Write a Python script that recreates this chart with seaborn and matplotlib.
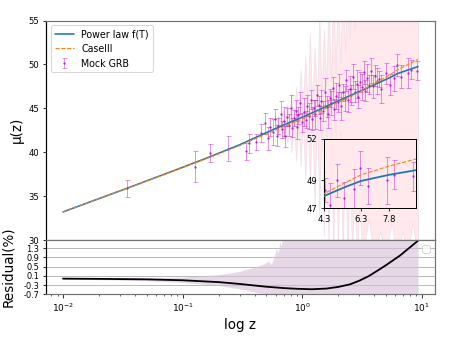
import numpy as np
import pandas as pd
import seaborn as sns
import matplotlib.pyplot as plt

# model curves
z_curve = [0.01, 0.015, 0.02, 0.03, 0.05, 0.07, 0.1, 0.15, 0.2, 0.3, 0.5, 0.7,
           1.0, 1.5, 2.0, 3.0, 4.3, 5.5, 6.3, 7.8, 9.3]
mu_power = [33.2, 34.09, 34.72, 35.6, 36.73, 37.48, 38.28, 39.2, 39.88, 40.85, 42.22, 43.1,
            43.98, 45.05, 45.85, 46.9, 47.87, 48.55, 48.96, 49.4, 49.75]
mu_case3 = [33.19, 34.08, 34.71, 35.59, 36.71, 37.45, 38.25, 39.15, 39.81, 40.75, 42.06, 42.91,
            43.77, 44.84, 45.68, 46.84, 48.04, 48.87, 49.4, 50.03, 50.56]

# mock GRB sample
z_grb = [0.034, 0.127, 0.17, 0.24, 0.34, 0.36, 0.41, 0.45, 0.49, 0.52, 0.54, 0.57, 0.59,
         0.61, 0.63, 0.66, 0.68, 0.70, 0.72, 0.75, 0.77, 0.80, 0.82, 0.85, 0.88, 0.90,
         0.93, 0.96, 0.99, 1.03, 1.07, 1.10, 1.14, 1.18, 1.21, 1.25, 1.29, 1.33, 1.37,
         1.41, 1.45, 1.50, 1.55, 1.60, 1.65, 1.70, 1.75, 1.80, 1.86, 1.92, 1.98, 2.05,
         2.12, 2.19, 2.26, 2.34, 2.42, 2.50, 2.58, 2.67, 2.76, 2.85, 2.95, 3.05, 3.15,
         3.26, 3.38, 3.50, 3.62, 3.75, 3.90, 4.05, 4.20, 4.35, 4.60, 5.00, 5.40, 5.90,
         6.25, 6.70, 7.70, 8.10, 9.10]
mu_grb = [35.9, 38.35, 39.9, 40.4, 40.1, 41.0, 41.2, 42.2, 43.3, 41.6, 42.9, 42.3, 43.8,
          41.9, 43.0, 44.4, 42.6, 43.5, 41.8, 44.0, 43.1, 45.0, 42.8, 43.9, 44.7, 42.9,
          44.2, 45.6, 43.4, 44.6, 43.7, 45.3, 44.1, 46.0, 43.8, 45.0, 44.3, 46.5, 45.4,
          43.9, 45.8, 44.7, 46.9, 45.2, 44.4, 46.2, 45.6, 47.3, 44.9, 46.4, 45.7, 47.6,
          45.3, 46.8, 46.1, 48.2, 45.9, 47.2, 46.5, 48.6, 46.9, 47.8, 46.3, 48.0, 47.4,
          49.1, 47.0, 48.4, 47.7, 49.3, 47.5, 48.7, 48.1, 48.3, 47.2, 49.0, 47.7, 48.4,
          49.9, 48.6, 49.0, 49.4, 49.3]
err_grb = [0.95, 1.8, 1.05, 1.4, 1.0, 1.1, 0.9, 1.05, 1.2, 1.3, 1.0, 1.5, 1.1,
           1.2, 0.9, 1.4, 1.0, 1.6, 1.2, 1.0, 1.3, 1.5, 1.1, 0.9, 1.2, 1.4,
           1.0, 1.3, 1.1, 1.6, 1.0, 1.2, 1.5, 1.1, 1.3, 0.9, 1.7, 1.2, 1.0,
           1.4, 1.3, 1.1, 1.5, 1.2, 1.6, 1.0, 1.4, 1.3, 1.2, 1.5, 1.1, 1.3,
           1.6, 1.0, 1.4, 1.2, 1.3, 1.5, 1.1, 1.4, 1.2, 1.6, 1.3, 1.1, 1.5,
           1.3, 1.2, 1.6, 1.1, 1.4, 1.3, 1.2, 1.5, 0.9, 1.6, 1.2, 1.2, 1.4,
           1.25, 1.3, 1.7, 1.05, 1.05]

# noisy pink band in the upper panel
z_band = [0.60, 0.63, 0.66, 0.69, 0.72, 0.75, 0.78, 0.81, 0.85, 0.89, 0.93, 0.97, 1.01,
          1.06, 1.11, 1.16, 1.21, 1.27, 1.33, 1.39, 1.45, 1.52, 1.59, 1.66, 1.74, 1.82,
          1.90, 1.99, 2.08, 2.18, 2.28, 2.39, 2.50, 2.61, 2.73, 2.86, 3.00, 3.2, 3.6,
          4.0, 4.5, 5.0, 5.6, 6.2, 6.9, 7.6, 8.4, 9.3]
band_hi = [43.0, 44.2, 43.2, 45.0, 43.4, 45.5, 43.7, 46.8, 44.0, 47.5, 44.3, 49.5, 44.6,
           51.0, 45.0, 53.5, 45.5, 52.0, 46.0, 56.0, 46.5, 54.0, 47.5, 58.0, 48.0, 60.0,
           49.0, 60.0, 50.0, 60.0, 51.5, 60.0, 53.0, 60.0, 54.0, 60.0, 60.0, 60.0, 60.0,
           60.0, 60.0, 60.0, 60.0, 60.0, 60.0, 60.0, 60.0, 60.0]
band_lo = [42.4, 42.0, 42.7, 41.5, 43.0, 41.0, 43.2, 40.0, 43.4, 39.0, 43.6, 38.5, 43.7,
           37.0, 44.0, 36.5, 44.0, 34.0, 44.3, 32.5, 44.5, 30.5, 44.8, 29.0, 44.0, 28.0,
           43.0, 28.0, 42.5, 28.0, 41.0, 28.0, 38.0, 28.0, 36.0, 28.0, 34.0, 28.0, 32.5,
           28.0, 31.0, 28.0, 32.0, 28.0, 31.0, 28.0, 32.0, 28.0]

# residual (%) between the two models
z_res = [0.01, 0.02, 0.05, 0.1, 0.2, 0.3, 0.5, 0.7, 0.9, 1.2, 1.6, 2.0, 2.5, 3.0, 3.6,
         4.3, 5.0, 5.8, 6.6, 7.5, 8.4, 9.3]
res_pct = [-0.02, -0.03, -0.05, -0.09, -0.17, -0.25, -0.37, -0.43, -0.46, -0.48, -0.45,
           -0.38, -0.27, -0.11, 0.09, 0.34, 0.56, 0.79, 0.99, 1.23, 1.44, 1.63]
z_rband = [0.01, 0.02, 0.05, 0.1, 0.2, 0.3, 0.4, 0.48, 0.52, 0.55, 0.58, 0.61, 0.63,
           0.65, 0.67, 0.70, 1.0, 3.0, 9.3]
rband_hi = [-0.01, 0.0, 0.01, 0.05, 0.15, 0.3, 0.48, 0.62, 0.75, 0.6, 0.9, 1.3, 1.1,
            1.6, 1.4, 2.5, 2.5, 2.5, 2.5]
rband_lo = [-0.03, -0.06, -0.11, -0.18, -0.32, -0.46, -0.6, -0.7, -0.8, -0.8, -0.8, -0.8,
            -0.8, -0.8, -0.8, -0.8, -0.8, -0.8, -0.8]

main_yticks = [30, 35, 40, 45, 50, 55]
res_yticks = [-0.7, -0.3, 0.1, 0.5, 0.9, 1.3]
inset_xticks = [4.3, 6.3, 7.8]
inset_yticks = [47, 49, 52]

sns.set_style('ticks')
plt.rcParams['font.family'] = ['DejaVu Sans']
plt.rcParams['text.color'] = 'black'
plt.rcParams['axes.labelcolor'] = 'black'
plt.rcParams['xtick.color'] = 'black'
plt.rcParams['ytick.color'] = 'black'

curves = pd.DataFrame({'z': z_curve, 'power': mu_power, 'case3': mu_case3})
res_df = pd.DataFrame({'z': z_res, 'res': res_pct})

W, H = 463, 347
fig = plt.figure(figsize=(W / 72, H / 72), dpi=72)
ax = fig.add_axes([46 / W, 1 - 240 / H, 389 / W, 219.5 / H])
ax_res = fig.add_axes([46 / W, 1 - 294.3 / H, 389 / W, 54.3 / H], sharex=ax)
ax_in = fig.add_axes([324 / W, 1 - 208 / H, 92 / W, 69 / H])


def draw_main(a, lw_blue):
    a.fill_between(z_band, band_lo, band_hi, facecolor='pink', edgecolor='thistle',
                   linewidth=0.8, alpha=0.35, zorder=1)
    eb = a.errorbar(z_grb, mu_grb, yerr=err_grb, fmt='.', ms=3, color='darkviolet',
                    ecolor='m', elinewidth=1, capsize=2.5, capthick=1, label='Mock GRB',
                    zorder=2)
    eb[0].set_alpha(0.55)
    for c in eb[1]:
        c.set_alpha(0.4)
    for c in eb[2]:
        c.set_alpha(0.4)
    sns.lineplot(data=curves, x='z', y='power', color='#1f77b4', lw=lw_blue,
                 label='Power law f(T)', ax=a, zorder=3)
    sns.lineplot(data=curves, x='z', y='case3', color='#ff7f0e', lw=1.1, ls='--',
                 label='CaseIII', ax=a, zorder=4)


draw_main(ax, 1.6)
ax.set_xscale('log')
ax.set_xlim(0.0072, 12.9)
ax.set_ylim(30, 55)
ax.set_yticks(main_yticks)
ax.tick_params(labelsize=8.5, labelbottom=False)
ax.set_xlabel('')
ax.set_ylabel('μ(z)', fontsize=13.5)
ax.legend(loc='upper left', fontsize=9.5, frameon=True)

# inset zoom of the high-z end
draw_main(ax_in, 1.8)
ax_in.set_xlim(4.3, 9.27)
ax_in.set_ylim(47, 52)
ax_in.set_xticks(inset_xticks)
ax_in.set_xticklabels([str(t) for t in inset_xticks])
ax_in.set_yticks(inset_yticks)
ax_in.tick_params(labelsize=8.5, length=3)
ax_in.set_xlabel('')
ax_in.set_ylabel('')
ax_in.get_legend().remove()
for s in ax_in.spines.values():
    s.set_color('black')
    s.set_linewidth(1)

# residual panel
ax_res.fill_between(z_rband, rband_lo, rband_hi, color='thistle', alpha=0.6, lw=0)
sns.lineplot(data=res_df, x='z', y='res', color='black', lw=1.8, ax=ax_res)
ax_res.set_ylim(-0.7, 1.66)
ax_res.set_yticks(res_yticks)
ax_res.set_yticklabels([f'{t:.1f}' for t in res_yticks])
ax_res.yaxis.grid(True, color='0.7', lw=0.9)
ax_res.tick_params(labelsize=8.3)
ax_res.tick_params(axis='x', labelsize=9)
ax_res.set_xlabel('log z', fontsize=13.5)
ax_res.set_ylabel('Residual(%)', fontsize=13.5, labelpad=8)
ax_res.legend(handles=[], loc='upper right')

for a in (ax, ax_res):
    for side, s in a.spines.items():
        s.set_color('black' if side == 'left' else '0.45')
        s.set_linewidth(1.2)

fig.savefig('out.png', dpi=72)
